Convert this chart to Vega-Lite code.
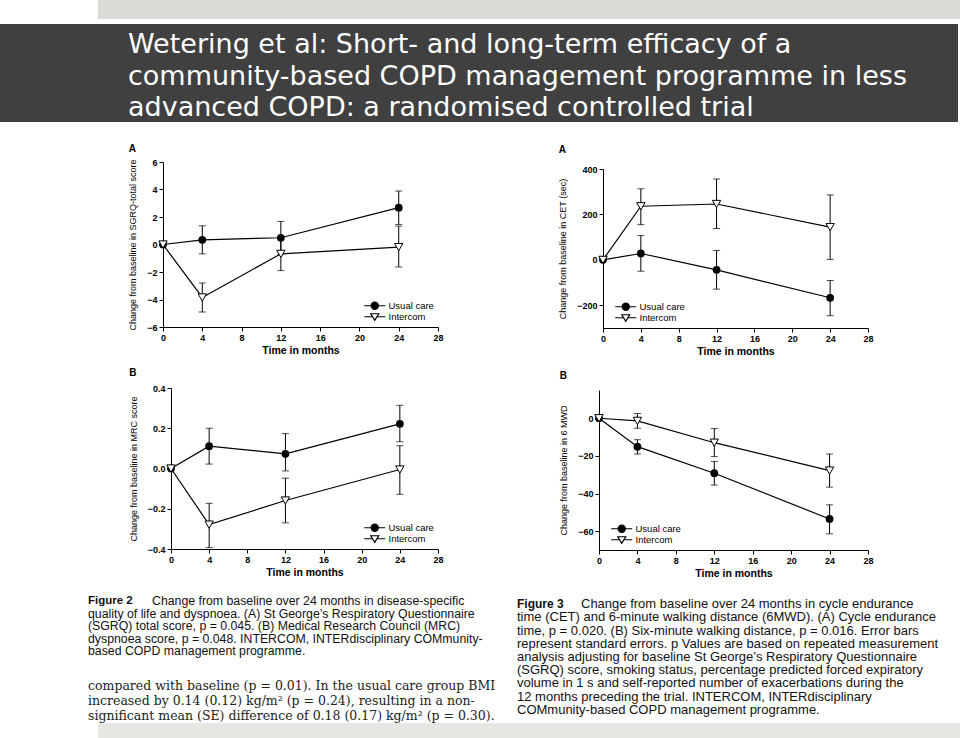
{
 "$schema": "https://vega.github.io/schema/vega-lite/v6.json",
 "background": "white",
 "padding": 0,
 "spacing": 0,
 "resolve": {"scale": {"shape": "independent", "fill": "independent", "stroke": "independent"}},
 "config": {
  "view": {"stroke": null},
  "font": "Liberation Sans",
  "axis": {"grid": false, "domainColor": "black", "domainWidth": 1, "tickColor": "black", "tickSize": 4, "labelColor": "black", "labelFont": "Liberation Sans", "labelFontSize": 9, "labelFontWeight": "bold", "labelPadding": 2, "titleColor": "black", "titleFont": "Liberation Sans"},
  "axisX": {"titleFontSize": 10.5, "titleFontWeight": "bold", "titlePadding": 3, "labelFlush": false},
  "axisY": {"titleFontSize": 9, "titleFontWeight": "normal", "titlePadding": 9},
  "title": {"font": "Liberation Sans", "fontSize": 10, "fontWeight": "bold", "color": "black"},
  "legend": {"labelFont": "Liberation Sans", "labelFontSize": 9.5, "labelColor": "black", "symbolOpacity": 1, "symbolSize": 49, "symbolStrokeColor": "black", "symbolStrokeWidth": 1.2, "labelOffset": 23, "rowPadding": -3, "padding": 0, "offset": 4}
 },
 "datasets": {
  "d": [
   {"panel": "SGRQ", "group": "Usual care", "t": 0, "v": 0, "lo": null, "hi": null},
   {"panel": "SGRQ", "group": "Usual care", "t": 4, "v": 0.34, "lo": -0.68, "hi": 1.36},
   {"panel": "SGRQ", "group": "Usual care", "t": 12, "v": 0.49, "lo": -0.7, "hi": 1.68},
   {"panel": "SGRQ", "group": "Usual care", "t": 24, "v": 2.68, "lo": 1.46, "hi": 3.89},
   {"panel": "SGRQ", "group": "Intercom", "t": 0, "v": 0, "lo": null, "hi": null},
   {"panel": "SGRQ", "group": "Intercom", "t": 4, "v": -3.85, "lo": -4.91, "hi": -2.8},
   {"panel": "SGRQ", "group": "Intercom", "t": 12, "v": -0.68, "lo": -1.9, "hi": 0.55},
   {"panel": "SGRQ", "group": "Intercom", "t": 24, "v": -0.19, "lo": -1.63, "hi": 1.34},
   {"panel": "MRC", "group": "Usual care", "t": 0, "v": 0, "lo": null, "hi": null},
   {"panel": "MRC", "group": "Usual care", "t": 4, "v": 0.111, "lo": 0.022, "hi": 0.2},
   {"panel": "MRC", "group": "Usual care", "t": 12, "v": 0.073, "lo": -0.012, "hi": 0.173},
   {"panel": "MRC", "group": "Usual care", "t": 24, "v": 0.222, "lo": 0.133, "hi": 0.314},
   {"panel": "MRC", "group": "Intercom", "t": 0, "v": 0, "lo": null, "hi": null},
   {"panel": "MRC", "group": "Intercom", "t": 4, "v": -0.279, "lo": -0.393, "hi": -0.173},
   {"panel": "MRC", "group": "Intercom", "t": 12, "v": -0.159, "lo": -0.27, "hi": -0.048},
   {"panel": "MRC", "group": "Intercom", "t": 24, "v": -0.005, "lo": -0.128, "hi": 0.113},
   {"panel": "CET", "group": "Usual care", "t": 0, "v": 0, "lo": null, "hi": null},
   {"panel": "CET", "group": "Usual care", "t": 4, "v": 28, "lo": -50, "hi": 107},
   {"panel": "CET", "group": "Usual care", "t": 12, "v": -44, "lo": -129, "hi": 41},
   {"panel": "CET", "group": "Usual care", "t": 24, "v": -167, "lo": -246, "hi": -91},
   {"panel": "CET", "group": "Intercom", "t": 0, "v": 0, "lo": null, "hi": null},
   {"panel": "CET", "group": "Intercom", "t": 4, "v": 236, "lo": 155, "hi": 313},
   {"panel": "CET", "group": "Intercom", "t": 12, "v": 246, "lo": 138, "hi": 356},
   {"panel": "CET", "group": "Intercom", "t": 24, "v": 144, "lo": 2, "hi": 286},
   {"panel": "MWD", "group": "Usual care", "t": 0, "v": 0, "lo": null, "hi": null},
   {"panel": "MWD", "group": "Usual care", "t": 4, "v": -15.1, "lo": -19, "hi": -11.4},
   {"panel": "MWD", "group": "Usual care", "t": 12, "v": -29.2, "lo": -35.5, "hi": -23},
   {"panel": "MWD", "group": "Usual care", "t": 24, "v": -53.5, "lo": -61.4, "hi": -46},
   {"panel": "MWD", "group": "Intercom", "t": 0, "v": 0, "lo": null, "hi": null},
   {"panel": "MWD", "group": "Intercom", "t": 4, "v": -1.4, "lo": -5.3, "hi": 2.5},
   {"panel": "MWD", "group": "Intercom", "t": 12, "v": -13, "lo": -20.4, "hi": -5.5},
   {"panel": "MWD", "group": "Intercom", "t": 24, "v": -27.8, "lo": -36.6, "hi": -19}
  ],
  "ttl": [
   {"line": 1, "text": "Wetering et al: Short- and long-term efficacy of a"},
   {"line": 2, "text": "community-based COPD management programme in less"},
   {"line": 3, "text": "advanced COPD: a randomised controlled trial"}
  ],
  "cap2": [
   {"line": 1, "lead": "Figure 2", "text": "Change from baseline over 24 months in disease-specific"},
   {"line": 2, "lead": "", "text": "quality of life and dyspnoea. (A) St George’s Respiratory Questionnaire"},
   {"line": 3, "lead": "", "text": "(SGRQ) total score, p = 0.045. (B) Medical Research Council (MRC)"},
   {"line": 4, "lead": "", "text": "dyspnoea score, p = 0.048. INTERCOM, INTERdisciplinary COMmunity-"},
   {"line": 5, "lead": "", "text": "based COPD management programme."}
  ],
  "cap2s": [
   {"line": 1, "text": "compared with baseline (p = 0.01). In the usual care group BMI"},
   {"line": 2, "text": "increased by 0.14 (0.12) kg/m² (p = 0.24), resulting in a non-"},
   {"line": 3, "text": "significant mean (SE) difference of 0.18 (0.17) kg/m² (p = 0.30)."}
  ],
  "cap3": [
   {"line": 1, "lead": "Figure 3", "text": "Change from baseline over 24 months in cycle endurance"},
   {"line": 2, "lead": "", "text": "time (CET) and 6-minute walking distance (6MWD). (A) Cycle endurance"},
   {"line": 3, "lead": "", "text": "time, p = 0.020. (B) Six-minute walking distance, p = 0.016. Error bars"},
   {"line": 4, "lead": "", "text": "represent standard errors. p Values are based on repeated measurement"},
   {"line": 5, "lead": "", "text": "analysis adjusting for baseline St George’s Respiratory Questionnaire"},
   {"line": 6, "lead": "", "text": "(SGRQ) score, smoking status, percentage predicted forced expiratory"},
   {"line": 7, "lead": "", "text": "volume in 1 s and self-reported number of exacerbations during the"},
   {"line": 8, "lead": "", "text": "12 months preceding the trial. INTERCOM, INTERdisciplinary"},
   {"line": 9, "lead": "", "text": "COMmunity-based COPD management programme."}
  ]
 },
 "vconcat": [
  {"spacing": 0, "hconcat": [
   {"width": 98, "height": 19, "data": {"values": [{}]}, "mark": {"type": "text", "text": "", "fontSize": 0}},
   {"width": 862, "height": 19, "view": {"fill": "#d9dbd5", "stroke": null}, "data": {"values": [{}]}, "mark": {"type": "text", "text": "", "fontSize": 0}}
  ]},
  {"width": 960, "height": 5, "data": {"values": [{}]}, "mark": {"type": "text", "text": "", "fontSize": 0}},
  {"width": 958, "height": 98, "view": {"fill": "#404040", "stroke": null}, "data": {"name": "ttl"},
   "mark": {"type": "text", "x": 128, "dy": 11.5, "align": "left", "baseline": "alphabetic", "font": "DejaVu Sans", "fontSize": 27, "color": "white"},
   "encoding": {"y": {"field": "line", "type": "ordinal", "axis": null, "scale": {"type": "point", "padding": 0.556}}, "text": {"field": "text"}}},
  {"width": 960, "height": 21, "data": {"values": [{}]}, "mark": {"type": "text", "text": "", "fontSize": 0}},
  {"spacing": 0, "resolve": {"scale": {"shape": "independent", "fill": "independent", "stroke": "independent"}}, "hconcat": [
   {"width": 128, "height": 10, "data": {"values": [{}]}, "mark": {"type": "text", "text": "", "fontSize": 0}},
   {"spacing": 0, "resolve": {"scale": {"shape": "independent", "fill": "independent", "stroke": "independent"}}, "vconcat": [
    {"width": 1, "height": 1, "data": {"values": [{}]}, "mark": {"type": "text", "text": "", "fontSize": 0}},
    {"width": 275, "height": 165, "data": {"name": "d"}, "transform": [{"filter": "datum.panel === 'SGRQ'"}],
     "title": {"text": "A", "anchor": "start", "frame": "bounds", "offset": 4},
     "layer": [
      {"mark": {"type": "line", "color": "black", "strokeWidth": 1.2}, "encoding": {
        "x": {"field": "t", "type": "quantitative", "scale": {"domain": [0, 28]}, "axis": {"values": [0, 4, 8, 12, 16, 20, 24, 28], "title": "Time in months"}},
        "y": {"field": "v", "type": "quantitative", "scale": {"domain": [-6, 6]}, "axis": {"values": [-6, -4, -2, 0, 2, 4, 6], "title": "Change from baseline in SGRQ-total score"}},
        "detail": {"field": "group"}, "order": {"field": "t"}}},
      {"transform": [{"filter": "isValid(datum.lo)"}], "mark": {"type": "rule", "color": "black", "strokeWidth": 1}, "encoding": {
        "x": {"field": "t", "type": "quantitative", "scale": {"domain": [0, 28]}, "axis": {"values": [0, 4, 8, 12, 16, 20, 24, 28], "title": "Time in months"}},
        "y": {"field": "lo", "type": "quantitative", "scale": {"domain": [-6, 6]}, "axis": {"values": [-6, -4, -2, 0, 2, 4, 6], "title": "Change from baseline in SGRQ-total score"}},
        "y2": {"field": "hi"}}},
      {"transform": [{"filter": "isValid(datum.lo)"}], "mark": {"type": "tick", "orient": "horizontal", "color": "black", "size": 7, "thickness": 1}, "encoding": {
        "x": {"field": "t", "type": "quantitative", "scale": {"domain": [0, 28]}, "axis": {"values": [0, 4, 8, 12, 16, 20, 24, 28], "title": "Time in months"}},
        "y": {"field": "lo", "type": "quantitative", "scale": {"domain": [-6, 6]}, "axis": {"values": [-6, -4, -2, 0, 2, 4, 6], "title": "Change from baseline in SGRQ-total score"}}}},
      {"transform": [{"filter": "isValid(datum.hi)"}], "mark": {"type": "tick", "orient": "horizontal", "color": "black", "size": 7, "thickness": 1}, "encoding": {
        "x": {"field": "t", "type": "quantitative", "scale": {"domain": [0, 28]}, "axis": {"values": [0, 4, 8, 12, 16, 20, 24, 28], "title": "Time in months"}},
        "y": {"field": "hi", "type": "quantitative", "scale": {"domain": [-6, 6]}, "axis": {"values": [-6, -4, -2, 0, 2, 4, 6], "title": "Change from baseline in SGRQ-total score"}}}},
      {"transform": [{"filter": "datum.group === 'Usual care'"}], "mark": {"type": "point", "shape": "circle", "filled": true, "color": "black", "size": 60, "opacity": 1}, "encoding": {
        "x": {"field": "t", "type": "quantitative", "scale": {"domain": [0, 28]}, "axis": {"values": [0, 4, 8, 12, 16, 20, 24, 28], "title": "Time in months"}},
        "y": {"field": "v", "type": "quantitative", "scale": {"domain": [-6, 6]}, "axis": {"values": [-6, -4, -2, 0, 2, 4, 6], "title": "Change from baseline in SGRQ-total score"}}}},
      {"transform": [{"filter": "datum.group === 'Intercom'"}], "mark": {"type": "point", "shape": "triangle-down", "filled": true, "fill": "white", "stroke": "black", "strokeWidth": 1, "size": 70, "opacity": 1}, "encoding": {
        "x": {"field": "t", "type": "quantitative", "scale": {"domain": [0, 28]}, "axis": {"values": [0, 4, 8, 12, 16, 20, 24, 28], "title": "Time in months"}},
        "y": {"field": "v", "type": "quantitative", "scale": {"domain": [-6, 6]}, "axis": {"values": [-6, -4, -2, 0, 2, 4, 6], "title": "Change from baseline in SGRQ-total score"}}}},
      {"mark": {"type": "point", "filled": true, "strokeWidth": 1.2, "opacity": 0}, "encoding": {
        "x": {"field": "t", "type": "quantitative", "scale": {"domain": [0, 28]}, "axis": {"values": [0, 4, 8, 12, 16, 20, 24, 28], "title": "Time in months"}},
        "y": {"field": "v", "type": "quantitative", "scale": {"domain": [-6, 6]}, "axis": {"values": [-6, -4, -2, 0, 2, 4, 6], "title": "Change from baseline in SGRQ-total score"}},
        "shape": {"field": "group", "type": "nominal", "scale": {"domain": ["Usual care", "Intercom"], "range": ["M1,0H7M2.97,0A1.03,1.03,0,1,1,5.03,0A1.03,1.03,0,1,1,2.97,0Z", "M1,0H3.38M4.62,0H7M2.86,-0.86L5.14,-0.86L4,1.03Z"]}, "legend": {"title": null, "orient": "bottom-right"}},
        "fill": {"field": "group", "type": "nominal", "scale": {"domain": ["Usual care", "Intercom"], "range": ["black", "white"]}, "legend": {"title": null, "orient": "bottom-right"}},
        "stroke": {"field": "group", "type": "nominal", "scale": {"domain": ["Usual care", "Intercom"], "range": ["black", "black"]}, "legend": {"title": null, "orient": "bottom-right"}}}}
     ]}
   ]},
   {"width": 114, "height": 10, "data": {"values": [{}]}, "mark": {"type": "text", "text": "", "fontSize": 0}},
   {"spacing": 0, "resolve": {"scale": {"shape": "independent", "fill": "independent", "stroke": "independent"}}, "vconcat": [
    {"width": 1, "height": 1.5, "data": {"values": [{}]}, "mark": {"type": "text", "text": "", "fontSize": 0}},
    {"width": 265, "height": 159, "data": {"name": "d"}, "transform": [{"filter": "datum.panel === 'CET'"}],
     "title": {"text": "A", "anchor": "start", "frame": "bounds", "offset": 10},
     "layer": [
      {"mark": {"type": "line", "color": "black", "strokeWidth": 1.2}, "encoding": {
        "x": {"field": "t", "type": "quantitative", "scale": {"domain": [0, 28]}, "axis": {"values": [0, 4, 8, 12, 16, 20, 24, 28], "title": "Time in months"}},
        "y": {"field": "v", "type": "quantitative", "scale": {"domain": [-300, 400]}, "axis": {"values": [-200, 0, 200, 400], "title": "Change from baseline in CET (sec)"}},
        "detail": {"field": "group"}, "order": {"field": "t"}}},
      {"transform": [{"filter": "isValid(datum.lo)"}], "mark": {"type": "rule", "color": "black", "strokeWidth": 1}, "encoding": {
        "x": {"field": "t", "type": "quantitative", "scale": {"domain": [0, 28]}, "axis": {"values": [0, 4, 8, 12, 16, 20, 24, 28], "title": "Time in months"}},
        "y": {"field": "lo", "type": "quantitative", "scale": {"domain": [-300, 400]}, "axis": {"values": [-200, 0, 200, 400], "title": "Change from baseline in CET (sec)"}},
        "y2": {"field": "hi"}}},
      {"transform": [{"filter": "isValid(datum.lo)"}], "mark": {"type": "tick", "orient": "horizontal", "color": "black", "size": 7, "thickness": 1}, "encoding": {
        "x": {"field": "t", "type": "quantitative", "scale": {"domain": [0, 28]}, "axis": {"values": [0, 4, 8, 12, 16, 20, 24, 28], "title": "Time in months"}},
        "y": {"field": "lo", "type": "quantitative", "scale": {"domain": [-300, 400]}, "axis": {"values": [-200, 0, 200, 400], "title": "Change from baseline in CET (sec)"}}}},
      {"transform": [{"filter": "isValid(datum.hi)"}], "mark": {"type": "tick", "orient": "horizontal", "color": "black", "size": 7, "thickness": 1}, "encoding": {
        "x": {"field": "t", "type": "quantitative", "scale": {"domain": [0, 28]}, "axis": {"values": [0, 4, 8, 12, 16, 20, 24, 28], "title": "Time in months"}},
        "y": {"field": "hi", "type": "quantitative", "scale": {"domain": [-300, 400]}, "axis": {"values": [-200, 0, 200, 400], "title": "Change from baseline in CET (sec)"}}}},
      {"transform": [{"filter": "datum.group === 'Usual care'"}], "mark": {"type": "point", "shape": "circle", "filled": true, "color": "black", "size": 60, "opacity": 1}, "encoding": {
        "x": {"field": "t", "type": "quantitative", "scale": {"domain": [0, 28]}, "axis": {"values": [0, 4, 8, 12, 16, 20, 24, 28], "title": "Time in months"}},
        "y": {"field": "v", "type": "quantitative", "scale": {"domain": [-300, 400]}, "axis": {"values": [-200, 0, 200, 400], "title": "Change from baseline in CET (sec)"}}}},
      {"transform": [{"filter": "datum.group === 'Intercom'"}], "mark": {"type": "point", "shape": "triangle-down", "filled": true, "fill": "white", "stroke": "black", "strokeWidth": 1, "size": 70, "opacity": 1}, "encoding": {
        "x": {"field": "t", "type": "quantitative", "scale": {"domain": [0, 28]}, "axis": {"values": [0, 4, 8, 12, 16, 20, 24, 28], "title": "Time in months"}},
        "y": {"field": "v", "type": "quantitative", "scale": {"domain": [-300, 400]}, "axis": {"values": [-200, 0, 200, 400], "title": "Change from baseline in CET (sec)"}}}},
      {"mark": {"type": "point", "filled": true, "strokeWidth": 1.2, "opacity": 0}, "encoding": {
        "x": {"field": "t", "type": "quantitative", "scale": {"domain": [0, 28]}, "axis": {"values": [0, 4, 8, 12, 16, 20, 24, 28], "title": "Time in months"}},
        "y": {"field": "v", "type": "quantitative", "scale": {"domain": [-300, 400]}, "axis": {"values": [-200, 0, 200, 400], "title": "Change from baseline in CET (sec)"}},
        "shape": {"field": "group", "type": "nominal", "scale": {"domain": ["Usual care", "Intercom"], "range": ["M1,0H7M2.97,0A1.03,1.03,0,1,1,5.03,0A1.03,1.03,0,1,1,2.97,0Z", "M1,0H3.38M4.62,0H7M2.86,-0.86L5.14,-0.86L4,1.03Z"]}, "legend": {"title": null, "orient": "bottom-left"}},
        "fill": {"field": "group", "type": "nominal", "scale": {"domain": ["Usual care", "Intercom"], "range": ["black", "white"]}, "legend": {"title": null, "orient": "bottom-left"}},
        "stroke": {"field": "group", "type": "nominal", "scale": {"domain": ["Usual care", "Intercom"], "range": ["black", "black"]}, "legend": {"title": null, "orient": "bottom-left"}}}}
     ]}
   ]}
  ]},
  {"width": 960, "height": 9.5, "data": {"values": [{}]}, "mark": {"type": "text", "text": "", "fontSize": 0}},
  {"spacing": 0, "resolve": {"scale": {"shape": "independent", "fill": "independent", "stroke": "independent"}}, "hconcat": [
   {"width": 128.5, "height": 10, "data": {"values": [{}]}, "mark": {"type": "text", "text": "", "fontSize": 0}},
   {"spacing": 0, "resolve": {"scale": {"shape": "independent", "fill": "independent", "stroke": "independent"}}, "vconcat": [
    {"width": 1, "height": 1, "data": {"values": [{}]}, "mark": {"type": "text", "text": "", "fontSize": 0}},
    {"width": 267, "height": 161, "data": {"name": "d"}, "transform": [{"filter": "datum.panel === 'MRC'"}],
     "title": {"text": "B", "anchor": "start", "frame": "bounds", "offset": 6},
     "layer": [
      {"mark": {"type": "line", "color": "black", "strokeWidth": 1.2}, "encoding": {
        "x": {"field": "t", "type": "quantitative", "scale": {"domain": [0, 28]}, "axis": {"values": [0, 4, 8, 12, 16, 20, 24, 28], "title": "Time in months"}},
        "y": {"field": "v", "type": "quantitative", "scale": {"domain": [-0.4, 0.4]}, "axis": {"values": [-0.4, -0.2, 0, 0.2, 0.4], "format": ".1f", "title": "Change from baseline in MRC score"}},
        "detail": {"field": "group"}, "order": {"field": "t"}}},
      {"transform": [{"filter": "isValid(datum.lo)"}], "mark": {"type": "rule", "color": "black", "strokeWidth": 1}, "encoding": {
        "x": {"field": "t", "type": "quantitative", "scale": {"domain": [0, 28]}, "axis": {"values": [0, 4, 8, 12, 16, 20, 24, 28], "title": "Time in months"}},
        "y": {"field": "lo", "type": "quantitative", "scale": {"domain": [-0.4, 0.4]}, "axis": {"values": [-0.4, -0.2, 0, 0.2, 0.4], "format": ".1f", "title": "Change from baseline in MRC score"}},
        "y2": {"field": "hi"}}},
      {"transform": [{"filter": "isValid(datum.lo)"}], "mark": {"type": "tick", "orient": "horizontal", "color": "black", "size": 7, "thickness": 1}, "encoding": {
        "x": {"field": "t", "type": "quantitative", "scale": {"domain": [0, 28]}, "axis": {"values": [0, 4, 8, 12, 16, 20, 24, 28], "title": "Time in months"}},
        "y": {"field": "lo", "type": "quantitative", "scale": {"domain": [-0.4, 0.4]}, "axis": {"values": [-0.4, -0.2, 0, 0.2, 0.4], "format": ".1f", "title": "Change from baseline in MRC score"}}}},
      {"transform": [{"filter": "isValid(datum.hi)"}], "mark": {"type": "tick", "orient": "horizontal", "color": "black", "size": 7, "thickness": 1}, "encoding": {
        "x": {"field": "t", "type": "quantitative", "scale": {"domain": [0, 28]}, "axis": {"values": [0, 4, 8, 12, 16, 20, 24, 28], "title": "Time in months"}},
        "y": {"field": "hi", "type": "quantitative", "scale": {"domain": [-0.4, 0.4]}, "axis": {"values": [-0.4, -0.2, 0, 0.2, 0.4], "format": ".1f", "title": "Change from baseline in MRC score"}}}},
      {"transform": [{"filter": "datum.group === 'Usual care'"}], "mark": {"type": "point", "shape": "circle", "filled": true, "color": "black", "size": 60, "opacity": 1}, "encoding": {
        "x": {"field": "t", "type": "quantitative", "scale": {"domain": [0, 28]}, "axis": {"values": [0, 4, 8, 12, 16, 20, 24, 28], "title": "Time in months"}},
        "y": {"field": "v", "type": "quantitative", "scale": {"domain": [-0.4, 0.4]}, "axis": {"values": [-0.4, -0.2, 0, 0.2, 0.4], "format": ".1f", "title": "Change from baseline in MRC score"}}}},
      {"transform": [{"filter": "datum.group === 'Intercom'"}], "mark": {"type": "point", "shape": "triangle-down", "filled": true, "fill": "white", "stroke": "black", "strokeWidth": 1, "size": 70, "opacity": 1}, "encoding": {
        "x": {"field": "t", "type": "quantitative", "scale": {"domain": [0, 28]}, "axis": {"values": [0, 4, 8, 12, 16, 20, 24, 28], "title": "Time in months"}},
        "y": {"field": "v", "type": "quantitative", "scale": {"domain": [-0.4, 0.4]}, "axis": {"values": [-0.4, -0.2, 0, 0.2, 0.4], "format": ".1f", "title": "Change from baseline in MRC score"}}}},
      {"mark": {"type": "point", "filled": true, "strokeWidth": 1.2, "opacity": 0}, "encoding": {
        "x": {"field": "t", "type": "quantitative", "scale": {"domain": [0, 28]}, "axis": {"values": [0, 4, 8, 12, 16, 20, 24, 28], "title": "Time in months"}},
        "y": {"field": "v", "type": "quantitative", "scale": {"domain": [-0.4, 0.4]}, "axis": {"values": [-0.4, -0.2, 0, 0.2, 0.4], "format": ".1f", "title": "Change from baseline in MRC score"}},
        "shape": {"field": "group", "type": "nominal", "scale": {"domain": ["Usual care", "Intercom"], "range": ["M1,0H7M2.97,0A1.03,1.03,0,1,1,5.03,0A1.03,1.03,0,1,1,2.97,0Z", "M1,0H3.38M4.62,0H7M2.86,-0.86L5.14,-0.86L4,1.03Z"]}, "legend": {"title": null, "orient": "bottom-right"}},
        "fill": {"field": "group", "type": "nominal", "scale": {"domain": ["Usual care", "Intercom"], "range": ["black", "white"]}, "legend": {"title": null, "orient": "bottom-right"}},
        "stroke": {"field": "group", "type": "nominal", "scale": {"domain": ["Usual care", "Intercom"], "range": ["black", "black"]}, "legend": {"title": null, "orient": "bottom-right"}}}}
     ]}
   ]},
   {"width": 114.5, "height": 10, "data": {"values": [{}]}, "mark": {"type": "text", "text": "", "fontSize": 0}},
   {"spacing": 0, "resolve": {"scale": {"shape": "independent", "fill": "independent", "stroke": "independent"}}, "vconcat": [
    {"width": 1, "height": 4, "data": {"values": [{}]}, "mark": {"type": "text", "text": "", "fontSize": 0}},
    {"width": 269, "height": 160, "data": {"name": "d"}, "transform": [{"filter": "datum.panel === 'MWD'"}],
     "title": {"text": "B", "anchor": "start", "frame": "bounds", "offset": 9},
     "layer": [
      {"mark": {"type": "line", "color": "black", "strokeWidth": 1.2}, "encoding": {
        "x": {"field": "t", "type": "quantitative", "scale": {"domain": [0, 28]}, "axis": {"values": [0, 4, 8, 12, 16, 20, 24, 28], "title": "Time in months"}},
        "y": {"field": "v", "type": "quantitative", "scale": {"domain": [-70, 15]}, "axis": {"values": [-60, -40, -20, 0], "title": "Change from baseline in 6 MWD"}},
        "detail": {"field": "group"}, "order": {"field": "t"}}},
      {"transform": [{"filter": "isValid(datum.lo)"}], "mark": {"type": "rule", "color": "black", "strokeWidth": 1}, "encoding": {
        "x": {"field": "t", "type": "quantitative", "scale": {"domain": [0, 28]}, "axis": {"values": [0, 4, 8, 12, 16, 20, 24, 28], "title": "Time in months"}},
        "y": {"field": "lo", "type": "quantitative", "scale": {"domain": [-70, 15]}, "axis": {"values": [-60, -40, -20, 0], "title": "Change from baseline in 6 MWD"}},
        "y2": {"field": "hi"}}},
      {"transform": [{"filter": "isValid(datum.lo)"}], "mark": {"type": "tick", "orient": "horizontal", "color": "black", "size": 7, "thickness": 1}, "encoding": {
        "x": {"field": "t", "type": "quantitative", "scale": {"domain": [0, 28]}, "axis": {"values": [0, 4, 8, 12, 16, 20, 24, 28], "title": "Time in months"}},
        "y": {"field": "lo", "type": "quantitative", "scale": {"domain": [-70, 15]}, "axis": {"values": [-60, -40, -20, 0], "title": "Change from baseline in 6 MWD"}}}},
      {"transform": [{"filter": "isValid(datum.hi)"}], "mark": {"type": "tick", "orient": "horizontal", "color": "black", "size": 7, "thickness": 1}, "encoding": {
        "x": {"field": "t", "type": "quantitative", "scale": {"domain": [0, 28]}, "axis": {"values": [0, 4, 8, 12, 16, 20, 24, 28], "title": "Time in months"}},
        "y": {"field": "hi", "type": "quantitative", "scale": {"domain": [-70, 15]}, "axis": {"values": [-60, -40, -20, 0], "title": "Change from baseline in 6 MWD"}}}},
      {"transform": [{"filter": "datum.group === 'Usual care'"}], "mark": {"type": "point", "shape": "circle", "filled": true, "color": "black", "size": 60, "opacity": 1}, "encoding": {
        "x": {"field": "t", "type": "quantitative", "scale": {"domain": [0, 28]}, "axis": {"values": [0, 4, 8, 12, 16, 20, 24, 28], "title": "Time in months"}},
        "y": {"field": "v", "type": "quantitative", "scale": {"domain": [-70, 15]}, "axis": {"values": [-60, -40, -20, 0], "title": "Change from baseline in 6 MWD"}}}},
      {"transform": [{"filter": "datum.group === 'Intercom'"}], "mark": {"type": "point", "shape": "triangle-down", "filled": true, "fill": "white", "stroke": "black", "strokeWidth": 1, "size": 70, "opacity": 1}, "encoding": {
        "x": {"field": "t", "type": "quantitative", "scale": {"domain": [0, 28]}, "axis": {"values": [0, 4, 8, 12, 16, 20, 24, 28], "title": "Time in months"}},
        "y": {"field": "v", "type": "quantitative", "scale": {"domain": [-70, 15]}, "axis": {"values": [-60, -40, -20, 0], "title": "Change from baseline in 6 MWD"}}}},
      {"mark": {"type": "point", "filled": true, "strokeWidth": 1.2, "opacity": 0}, "encoding": {
        "x": {"field": "t", "type": "quantitative", "scale": {"domain": [0, 28]}, "axis": {"values": [0, 4, 8, 12, 16, 20, 24, 28], "title": "Time in months"}},
        "y": {"field": "v", "type": "quantitative", "scale": {"domain": [-70, 15]}, "axis": {"values": [-60, -40, -20, 0], "title": "Change from baseline in 6 MWD"}},
        "shape": {"field": "group", "type": "nominal", "scale": {"domain": ["Usual care", "Intercom"], "range": ["M1,0H7M2.97,0A1.03,1.03,0,1,1,5.03,0A1.03,1.03,0,1,1,2.97,0Z", "M1,0H3.38M4.62,0H7M2.86,-0.86L5.14,-0.86L4,1.03Z"]}, "legend": {"title": null, "orient": "bottom-left"}},
        "fill": {"field": "group", "type": "nominal", "scale": {"domain": ["Usual care", "Intercom"], "range": ["black", "white"]}, "legend": {"title": null, "orient": "bottom-left"}},
        "stroke": {"field": "group", "type": "nominal", "scale": {"domain": ["Usual care", "Intercom"], "range": ["black", "black"]}, "legend": {"title": null, "orient": "bottom-left"}}}}
     ]}
   ]}
  ]},
  {"width": 960, "height": 15.25, "data": {"values": [{}]}, "mark": {"type": "text", "text": "", "fontSize": 0}},
  {"spacing": 0, "hconcat": [
   {"width": 88, "height": 10, "data": {"values": [{}]}, "mark": {"type": "text", "text": "", "fontSize": 0}},
   {"spacing": 20, "vconcat": [
    {"width": 425, "height": 62.5, "data": {"name": "cap2"},
     "encoding": {"y": {"field": "line", "type": "ordinal", "axis": null, "scale": {"type": "point", "padding": 0.5}}},
     "layer": [
      {"transform": [{"filter": "datum.line === 1"}], "mark": {"type": "text", "x": 0, "align": "left", "baseline": "middle", "font": "Liberation Sans", "fontSize": 11.5, "fontWeight": "bold", "color": "#111"}, "encoding": {"text": {"field": "lead"}}},
      {"transform": [{"filter": "datum.line === 1"}], "mark": {"type": "text", "x": 0, "dx": 64, "align": "left", "baseline": "middle", "font": "Liberation Sans", "fontSize": 12.3, "color": "#111"}, "encoding": {"text": {"field": "text"}}},
      {"transform": [{"filter": "datum.line > 1"}], "mark": {"type": "text", "x": 0, "align": "left", "baseline": "middle", "font": "Liberation Sans", "fontSize": 12.3, "color": "#111"}, "encoding": {"text": {"field": "text"}}}
     ]},
    {"width": 425, "height": 45, "data": {"name": "cap2s"},
     "mark": {"type": "text", "x": 0, "align": "left", "baseline": "middle", "font": "DejaVu Serif", "fontSize": 12.5, "color": "#222"},
     "encoding": {"y": {"field": "line", "type": "ordinal", "axis": null, "scale": {"type": "point", "padding": 0.5}}, "text": {"field": "text"}}}
   ]},
   {"width": 4, "height": 10, "data": {"values": [{}]}, "mark": {"type": "text", "text": "", "fontSize": 0}},
   {"width": 430, "height": 124, "data": {"name": "cap3"},
    "encoding": {"y": {"field": "line", "type": "ordinal", "axis": null, "scale": {"type": "point", "padding": 0.68}}},
    "layer": [
     {"transform": [{"filter": "datum.line === 1"}], "mark": {"type": "text", "x": 0, "align": "left", "baseline": "middle", "font": "Liberation Sans", "fontSize": 12, "fontWeight": "bold", "color": "#111"}, "encoding": {"text": {"field": "lead"}}},
     {"transform": [{"filter": "datum.line === 1"}], "mark": {"type": "text", "x": 0, "dx": 64, "align": "left", "baseline": "middle", "font": "Liberation Sans", "fontSize": 13, "color": "#111"}, "encoding": {"text": {"field": "text"}}},
     {"transform": [{"filter": "datum.line > 1"}], "mark": {"type": "text", "x": 0, "align": "left", "baseline": "middle", "font": "Liberation Sans", "fontSize": 13, "color": "#111"}, "encoding": {"text": {"field": "text"}}}
    ]}
  ]},
  {"spacing": 0, "hconcat": [
   {"width": 98, "height": 15, "data": {"values": [{}]}, "mark": {"type": "text", "text": "", "fontSize": 0}},
   {"width": 862, "height": 15, "view": {"fill": "#e6e6e2", "stroke": null}, "data": {"values": [{}]}, "mark": {"type": "text", "text": "", "fontSize": 0}}
  ]}
 ]
}
